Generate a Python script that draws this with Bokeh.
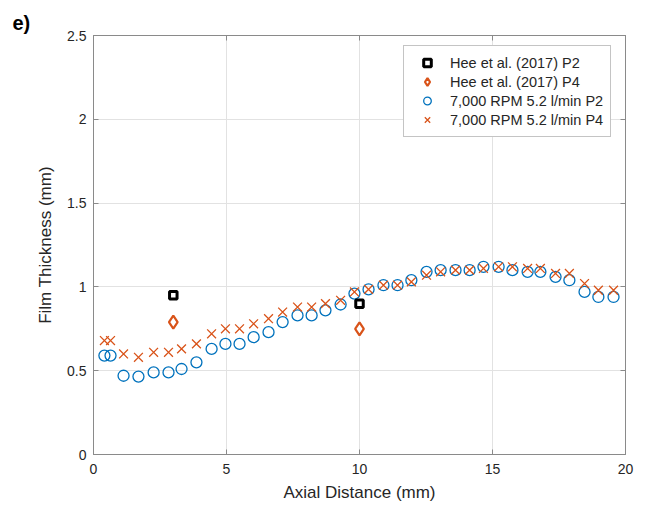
from bokeh.plotting import figure
from bokeh.models import LinearAxis, Legend, LegendItem, Range1d, NumeralTickFormatter, FixedTicker
from bokeh.embed import file_html
from bokeh.resources import INLINE

# Axial positions (mm) of the simulated film-thickness samples
x_sim = [0.41, 0.64, 1.13, 1.69, 2.26, 2.82, 3.31, 3.87, 4.44, 4.96,
         5.49, 6.02, 6.58, 7.11, 7.67, 8.20, 8.72, 9.29, 9.81, 10.34,
         10.90, 11.43, 11.95, 12.52, 13.05, 13.61, 14.14, 14.66, 15.23, 15.75,
         16.32, 16.80, 17.37, 17.89, 18.46, 18.98, 19.55]

# 7,000 RPM, 5.2 l/min simulation at probe P2 and P4 (mm)
p2_sim = [0.59, 0.59, 0.47, 0.465, 0.49, 0.49, 0.51, 0.55, 0.63, 0.66,
          0.66, 0.70, 0.73, 0.79, 0.83, 0.83, 0.86, 0.895, 0.96, 0.985,
          1.01, 1.01, 1.04, 1.09, 1.10, 1.10, 1.10, 1.12, 1.12, 1.10,
          1.09, 1.09, 1.06, 1.04, 0.97, 0.94, 0.94]
p4_sim = [0.68, 0.68, 0.60, 0.58, 0.61, 0.61, 0.63, 0.66, 0.72, 0.75,
          0.75, 0.78, 0.81, 0.85, 0.88, 0.88, 0.90, 0.92, 0.97, 0.985,
          1.01, 1.01, 1.03, 1.07, 1.09, 1.10, 1.10, 1.11, 1.12, 1.12,
          1.11, 1.11, 1.08, 1.08, 1.02, 0.98, 0.98]

# Hee et al. (2017) measurements
x_hee = [3.0, 10.0]
p2_hee = [0.95, 0.90]
p4_hee = [0.79, 0.75]

x_ticks = [0, 5, 10, 15, 20]
y_ticks = [0, 0.5, 1, 1.5, 2, 2.5]

FONT = "Liberation Sans"
AXIS_COLOR = "#8a8a8a"
TEXT_COLOR = "#262626"
BLUE = "#0072BD"
ORANGE = "#D95319"

p = figure(width=649, height=512,
           x_range=Range1d(0, 20), y_range=Range1d(0, 2.5),
           output_backend="svg", toolbar_location=None,
           min_border_left=93, min_border_right=24,
           min_border_top=35, min_border_bottom=58,
           title="e)")

p.background_fill_color = "white"
p.border_fill_color = "white"
p.outline_line_color = AXIS_COLOR
p.outline_line_width = 1

# panel label
p.title.text_font = FONT
p.title.text_font_size = "20px"
p.title.text_font_style = "bold"
p.title.text_color = "black"
p.title.align = "left"
p.title.offset = -81
p.title.standoff = 4

# grid
p.xgrid.ticker = FixedTicker(ticks=x_ticks)
p.ygrid.ticker = FixedTicker(ticks=y_ticks)
p.grid.grid_line_color = "#e2e2e2"
p.grid.grid_line_width = 1

# axes
p.xaxis.ticker = FixedTicker(ticks=x_ticks)
p.yaxis.ticker = FixedTicker(ticks=y_ticks)
p.yaxis.formatter = NumeralTickFormatter(format="0.[0]")
p.xaxis.axis_label = "Axial Distance (mm)"
p.yaxis.axis_label = "Film Thickness (mm)"

for ax in (p.xaxis[0], p.yaxis[0]):
    ax.axis_line_color = AXIS_COLOR
    ax.major_tick_line_color = AXIS_COLOR
    ax.major_tick_in = 5
    ax.major_tick_out = 0
    ax.minor_tick_line_color = None
    ax.major_label_text_font = FONT
    ax.major_label_text_font_size = "14px"
    ax.major_label_text_color = TEXT_COLOR
    ax.axis_label_text_font = FONT
    ax.axis_label_text_font_size = "17px"
    ax.axis_label_text_font_style = "normal"
    ax.axis_label_text_color = TEXT_COLOR

p.xaxis.major_label_standoff = 9
p.xaxis.axis_label_standoff = 6
p.yaxis.major_label_standoff = 7
p.yaxis.axis_label_standoff = 9

# boxed frame: unlabelled tick marks on the top and right edges
right_axis = LinearAxis(ticker=FixedTicker(ticks=y_ticks))
top_axis = LinearAxis(ticker=FixedTicker(ticks=x_ticks))
for ax in (right_axis, top_axis):
    ax.axis_line_color = AXIS_COLOR
    ax.major_tick_line_color = AXIS_COLOR
    ax.major_tick_in = 5
    ax.major_tick_out = 0
    ax.minor_tick_line_color = None
    ax.major_label_text_font_size = "1px"
    ax.major_label_text_color = None
    ax.major_label_standoff = 0
p.add_layout(right_axis, "right")
p.add_layout(top_axis, "above")

# data
r_sim2 = p.scatter(x_sim, p2_sim, marker="circle", size=11,
                   line_color=BLUE, line_width=1.3, fill_color=None)
r_sim4 = p.scatter(x_sim, p4_sim, marker="x", size=12.5,
                   line_color=ORANGE, line_width=1.3)
r_hee2 = p.scatter(x_hee, p2_hee, marker="square", size=7.5,
                   line_color="black", line_width=3, fill_color="white")
r_hee4 = p.scatter(x_hee, p4_hee, marker="diamond", size=13,
                   line_color=ORANGE, line_width=2.2, fill_color="white")

legend = Legend(items=[
    LegendItem(label="Hee et al. (2017) P2", renderers=[r_hee2]),
    LegendItem(label="Hee et al. (2017) P4", renderers=[r_hee4]),
    LegendItem(label="7,000 RPM 5.2 l/min P2", renderers=[r_sim2]),
    LegendItem(label="7,000 RPM 5.2 l/min P4", renderers=[r_sim4]),
], location=(310, 317))
legend.label_text_font = FONT
legend.label_text_font_size = "14.5px"
legend.label_text_color = TEXT_COLOR
legend.border_line_color = AXIS_COLOR
legend.border_line_width = 1
legend.background_fill_color = "white"
legend.background_fill_alpha = 1
legend.padding = 7
legend.spacing = 0
legend.glyph_width = 32
legend.glyph_height = 19
legend.label_height = 19
legend.label_standoff = 7
legend.margin = 0
p.add_layout(legend)

open("out.html", "w").write(file_html(p, INLINE))
